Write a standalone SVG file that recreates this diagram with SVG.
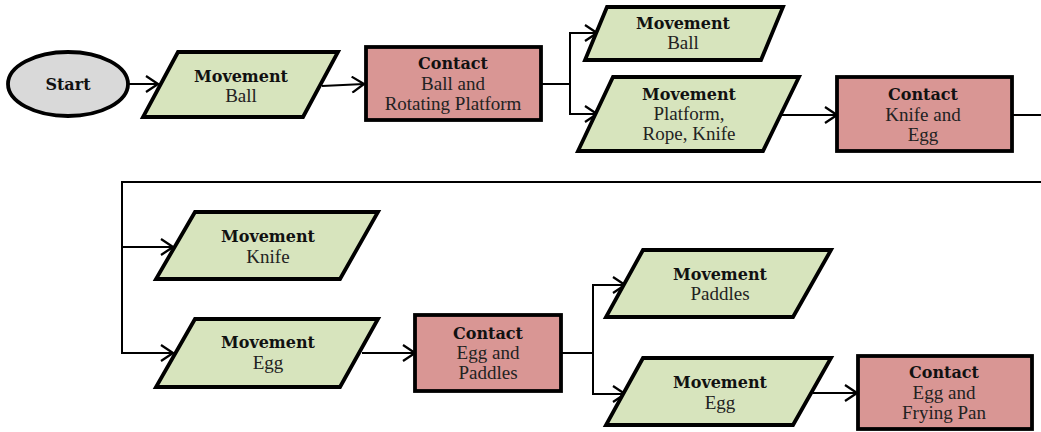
<svg xmlns="http://www.w3.org/2000/svg" width="1041" height="432" viewBox="0 0 1041 432">
  <style>
    .shape { stroke: #000; stroke-width: 3.8; stroke-linejoin: miter; }
    .start { fill: #d9d9d9; }
    .move { fill: #d7e4bd; }
    .contact { fill: #d99694; }
    .wire { fill: none; stroke: #000; stroke-width: 2; }
    .arrow { marker-end: url(#chevron); }
    .title { font-family: "DejaVu Serif", serif; font-weight: bold; font-size: 16px; fill: #111; text-anchor: middle; }
    .label { font-family: "Liberation Serif", "Times New Roman", serif; font-size: 19px; fill: #222; text-anchor: middle; }
  </style>
  <defs>
    <marker id="chevron" viewBox="0 0 14 18" refX="13" refY="9" markerWidth="14" markerHeight="18" markerUnits="userSpaceOnUse" orient="auto">
      <path d="M1,1 L13,9 L1,17" fill="none" stroke="#000" stroke-width="2.2"/>
    </marker>
  </defs>
  <rect width="1041" height="432" fill="#fff"/>

  <g id="connectors">
    <path class="wire arrow" d="M128,84 H158"/>
    <path class="wire arrow" d="M322,86 L364,84"/>
    <path class="wire arrow" d="M541,84 H570 V33 H597"/>
    <path class="wire arrow" d="M570,84 V114 H597"/>
    <path class="wire arrow" d="M780,115 H837"/>
    <path class="wire" d="M1012,115 H1041"/>
    <path class="wire arrow" d="M1041,182 H122 V353 H173"/>
    <path class="wire arrow" d="M122,247 H173"/>
    <path class="wire arrow" d="M362,353 H415"/>
    <path class="wire arrow" d="M561,353 H593 V285 H625"/>
    <path class="wire arrow" d="M593,353 V394 H625"/>
    <path class="wire arrow" d="M813,393 H857"/>
  </g>

  <g id="start">
    <ellipse class="shape start" cx="68" cy="84" rx="60" ry="32"/>
    <text class="title" x="68" y="90">Start</text>
  </g>

  <g id="movement-ball-1">
    <polygon class="shape move" points="178,52 338,52 303,117 143,117"/>
    <text class="title" x="241" y="82">Movement</text>
    <text class="label" x="241" y="102">Ball</text>
  </g>

  <g id="contact-ball-platform">
    <rect class="shape contact" x="366" y="47" width="175" height="73"/>
    <text class="title" x="453" y="69">Contact</text>
    <text class="label" x="453" y="90">Ball and</text>
    <text class="label" x="453" y="110">Rotating Platform</text>
  </g>

  <g id="movement-ball-2">
    <polygon class="shape move" points="607,7 783,7 761,60 585,60"/>
    <text class="title" x="683" y="29">Movement</text>
    <text class="label" x="683" y="49">Ball</text>
  </g>

  <g id="movement-platform-rope-knife">
    <polygon class="shape move" points="613,77 799,77 763,151 578,151"/>
    <text class="title" x="689" y="100">Movement</text>
    <text class="label" x="689" y="120">Platform,</text>
    <text class="label" x="689" y="140">Rope, Knife</text>
  </g>

  <g id="contact-knife-egg">
    <rect class="shape contact" x="837" y="77" width="175" height="74"/>
    <text class="title" x="923" y="100">Contact</text>
    <text class="label" x="923" y="121">Knife and</text>
    <text class="label" x="923" y="141">Egg</text>
  </g>

  <g id="movement-knife">
    <polygon class="shape move" points="195,212 378,212 340,279 156,279"/>
    <text class="title" x="268" y="242">Movement</text>
    <text class="label" x="268" y="263">Knife</text>
  </g>

  <g id="movement-egg-1">
    <polygon class="shape move" points="195,319 378,319 340,387 156,387"/>
    <text class="title" x="268" y="348">Movement</text>
    <text class="label" x="268" y="369">Egg</text>
  </g>

  <g id="contact-egg-paddles">
    <rect class="shape contact" x="415" y="315" width="146" height="76"/>
    <text class="title" x="488" y="339">Contact</text>
    <text class="label" x="488" y="359">Egg and</text>
    <text class="label" x="488" y="379">Paddles</text>
  </g>

  <g id="movement-paddles">
    <polygon class="shape move" points="643,250 831,250 793,317 606,317"/>
    <text class="title" x="720" y="280">Movement</text>
    <text class="label" x="720" y="300">Paddles</text>
  </g>

  <g id="movement-egg-2">
    <polygon class="shape move" points="643,358 831,358 793,425 606,425"/>
    <text class="title" x="720" y="388">Movement</text>
    <text class="label" x="720" y="409">Egg</text>
  </g>

  <g id="contact-egg-frying-pan">
    <rect class="shape contact" x="858" y="356" width="174" height="73"/>
    <text class="title" x="944" y="378">Contact</text>
    <text class="label" x="944" y="399">Egg and</text>
    <text class="label" x="944" y="419">Frying Pan</text>
  </g>
</svg>
